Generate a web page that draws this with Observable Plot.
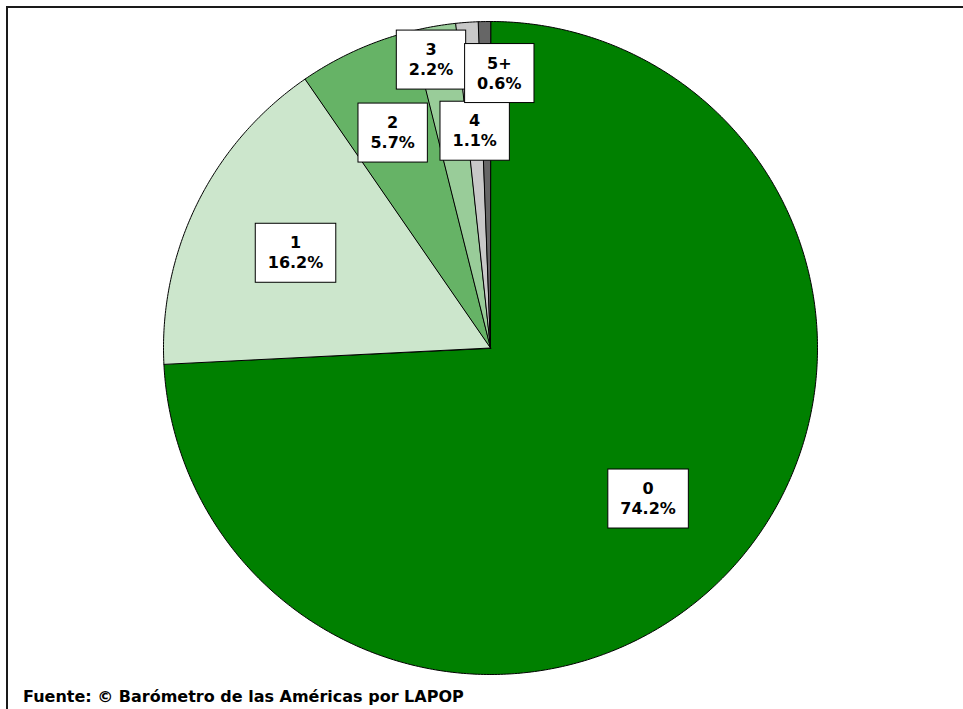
<!DOCTYPE html>
<html><head><meta charset="utf-8">
<script src="https://cdn.jsdelivr.net/npm/d3@7"></script>
<script src="https://cdn.jsdelivr.net/npm/@observablehq/plot@0.6"></script>
<style>
body{margin:0;background:#fff;}
#wrap{position:relative;width:963px;height:709px;overflow:hidden;background:#fff;}
#frame{position:absolute;left:6px;top:6px;width:1000px;height:800px;border-top:2px solid #1a1a1a;border-left:2px solid #1a1a1a;}
#chart{position:absolute;left:0;top:0;}
#caption{position:absolute;left:23px;top:687px;font:bold 16px "DejaVu Sans";color:#000;white-space:nowrap;}
</style></head><body>
<div id="wrap"><div id="frame"></div><div id="chart"></div><div id="caption">Fuente: © Barómetro de las Américas por LAPOP</div></div>
<script>
const categories = ["0", "1", "2", "3", "4", "5+"];
const percents = [74.2, 16.2, 5.7, 2.2, 1.1, 0.6];
const colors = ["#008000", "#cce6cc", "#66b366", "#99cc99", "#c8c8c8", "#666666"];
const labelRadius = [0.665, 0.665, 0.727, 0.90, 0.67, 0.845];
const labelDx = [0, 0, 0, -8, 0, 14];

const total = d3.sum(percents);
const slices = [];
const labels = [];
let cum = 0;
categories.forEach((cat, i) => {
  const a0 = cum / total * 2 * Math.PI;
  cum += percents[i];
  const a1 = cum / total * 2 * Math.PI;
  slices.push({cat, x: 0, y: 0});
  const n = Math.max(2, Math.ceil((a1 - a0) / (Math.PI / 360)));
  for (let k = 0; k <= n; k++) {
    const a = a0 + (a1 - a0) * k / n;
    slices.push({cat, x: Math.sin(a), y: Math.cos(a)});
  }
  const am = (a0 + a1) / 2;
  labels.push({cat, x: labelRadius[i] * Math.sin(am), y: labelRadius[i] * Math.cos(am),
    text: cat + "\n" + percents[i].toFixed(1) + "%", dx: labelDx[i]});
});

const W = 963, H = 680;
const plot = Plot.plot({
  width: W, height: H,
  marginLeft: 163, marginRight: 146, marginTop: 21, marginBottom: 6,
  x: {domain: [-1, 1], axis: null},
  y: {domain: [-1, 1], axis: null},
  color: {domain: categories, range: colors},
  style: {background: "transparent", overflow: "visible"},
  marks: [
    Plot.line(slices, {x: "x", y: "y", z: "cat", fill: "cat", stroke: "#000", strokeWidth: 1, curve: "linear-closed", strokeLinejoin: "round"}),
    ...labels.map(l => Plot.text([l], {x: "x", y: "y", text: "text", dx: l.dx, fontSize: 16, fontWeight: "bold", fontFamily: "DejaVu Sans", lineHeight: 1.25, fill: "#000"}))
  ]
});
document.getElementById("chart").appendChild(plot);

const padX = 12.5, padY = 10;
plot.querySelectorAll('g[aria-label="text"] text').forEach(t => {
  const b = t.getBBox();
  const r = document.createElementNS("http://www.w3.org/2000/svg", "rect");
  r.setAttribute("x", b.x - padX);
  r.setAttribute("y", b.y - padY);
  r.setAttribute("width", b.width + 2 * padX);
  r.setAttribute("height", b.height + 2 * padY);
  r.setAttribute("fill", "#fff");
  r.setAttribute("stroke", "#000");
  r.setAttribute("stroke-width", "1");
  if (t.getAttribute("transform")) r.setAttribute("transform", t.getAttribute("transform"));
  t.parentNode.insertBefore(r, t);
});
</script>
</body></html>
